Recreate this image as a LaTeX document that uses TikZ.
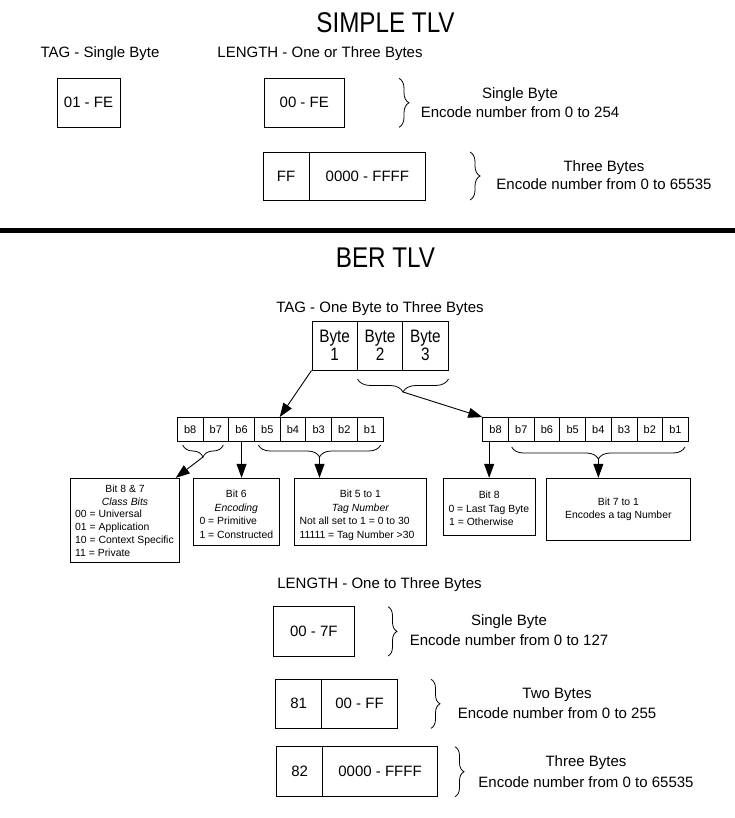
\documentclass[tikz,border=0pt]{standalone}
\usepackage{fontspec}
\setmainfont{Liberation Sans}
\newfontfamily\narrowfont[FakeStretch=0.85]{Liberation Sans}
\usetikzlibrary{arrows.meta,decorations.pathreplacing}
\begin{document}
\begin{tikzpicture}[x=1pt,y=-1pt,
  box/.style={draw,line width=0.9pt,inner sep=0pt,rectangle,font=\fontsize{15}{18}\selectfont},
  bytebox/.style={box,minimum width=45.33pt,minimum height=49pt,align=center,font=\narrowfont\fontsize{18}{18.4}\selectfont},
  infobox/.style={draw,line width=0.9pt,inner sep=0pt,rectangle},
  lbl/.style={inner sep=0pt,anchor=base,font=\fontsize{15}{18}\selectfont},
  big/.style={inner sep=0pt,anchor=base,font=\narrowfont\fontsize{28.5}{32}\selectfont},
  bit/.style={draw,line width=0.8pt,inner sep=0pt,minimum width=25.7pt,minimum height=23.5pt,font=\fontsize{11}{13}\selectfont},
  sm/.style={inner sep=0pt,anchor=base,font=\fontsize{10.4}{12.5}\selectfont},
  smw/.style={sm,anchor=base west},
  smi/.style={sm,font=\fontsize{10.4}{12.5}\selectfont\itshape},
  vbrace/.style={decorate,decoration={brace,amplitude=10pt},line width=0.8pt},
  hbrace/.style={decorate,decoration={brace,amplitude=12pt},line width=0.8pt},
  arr/.style={-{Triangle[length=14pt,width=10pt]},line width=0.9pt}
]
\useasboundingbox (0,0) rectangle (735,818);

% ---------- SIMPLE TLV ----------
\node[big] (title1) at (385.5,33) {SIMPLE TLV};
\node[lbl] (tagsingle) at (100,57.4) {TAG - Single Byte};
\node[lbl] (lenone) at (320,57.4) {LENGTH - One or Three Bytes};

\node[box,minimum width=63pt,minimum height=49pt] (t1) at (88.5,102.8) {01 - FE};
\node[box,minimum width=80.5pt,minimum height=49pt] (l1) at (304.25,102.8) {00 - FE};
\draw[vbrace,decoration={amplitude=10pt}] (399,78.3) -- (399,127.3);
\node[lbl] (sb1) at (520,98.4) {Single Byte};
\node[lbl] (enc254) at (520,117.4) {Encode number from 0 to 254};

\node[box,minimum width=46pt,minimum height=48pt] (l2a) at (286,176) {FF};
\node[box,minimum width=116.7pt,minimum height=48pt] (l2b) at (367.35,176) {0000 - FFFF};
\draw[vbrace] (470,152) -- (470,200);
\node[lbl] (tb1) at (604,171.4) {Three Bytes};
\node[lbl] (enca) at (604,189.4) {Encode number from 0 to 65535};

\draw[line width=5pt] (0,230.5) -- (735,230.5);

% ---------- BER TLV ----------
\node[big] (title2) at (385.5,267) {BER TLV};
\node[lbl] (tagone) at (380,312.4) {TAG - One Byte to Three Bytes};

\node[bytebox] (by1) at (334.65,345.5) {Byte\\1};
\node[bytebox] (by2) at (380,345.5) {Byte\\2};
\node[bytebox] (by3) at (425.35,345.5) {Byte\\3};

\foreach \i/\t in {0/b8,1/b7,2/b6,3/b5,4/b4,5/b3,6/b2,7/b1}{
  \node[bit] (l\t) at ({177.3+25.7*(\i+0.5)},429.25) {\t};
  \node[bit] (r\t) at ({482.7+25.7*(\i+0.5)},429.25) {\t};
}

% braces under bits / bytes
\draw[hbrace,decoration={amplitude=13pt}] (448.5,379) -- (357.5,379);
\coordinate (hb3) at (403,392);
\draw[hbrace] (223.3,445) -- (182.7,445);
\coordinate (hb1) at (203,457);
\draw[hbrace] (380.7,445) -- (258.3,445);
\coordinate (hb2) at (319.5,457);
\draw[hbrace] (685,447) -- (511.7,447);
\coordinate (hb4) at (598.35,459);

% info boxes
\node[infobox,minimum width=108.6pt,minimum height=83.7pt] (cls) at (125,520.15) {};
\node[infobox,minimum width=86pt,minimum height=66.7pt] (enc) at (236.3,511.65) {};
\node[infobox,minimum width=132.7pt,minimum height=66.7pt] (tnum) at (360.35,511.65) {};
\node[infobox,minimum width=91.7pt,minimum height=56.7pt] (last) at (489.15,506.65) {};
\node[infobox,minimum width=143.3pt,minimum height=61.7pt] (tag7) at (618.35,509.15) {};

% arrows
\draw[arr] (by1.south west) -- (lb4.north west);
\draw[arr] (hb3) -- (rb8.north west);
\draw[arr] (hb1) -- ([xshift=-4pt]cls.north east);
\draw[arr] (lb6.south) -- (lb6.south |- enc.north);
\draw[arr] (hb2) -- (hb2 |- tnum.north);
\draw[arr] (last.north |- rb8.south) -- (last.north);
\draw[arr] (hb4) -- (hb4 |- tag7.north);

% info texts
\node[sm] (c1) at (125,492.0) {Bit 8 \& 7};
\node[smi] (c2) at (125,505) {Class Bits};
\node[smw] (c3) at (75,517.9) {00 = Universal};
\node[smw] (c4) at (75,530.8) {01 = Application};
\node[smw] (c5) at (75,543.7) {10 = Context Specific};
\node[smw] (c6) at (75,556.6) {11 = Private};

\node[sm] (e1) at (236.3,497.7) {Bit 6};
\node[smi] (e2) at (236.3,511.3) {Encoding};
\node[smw] (e3) at (199.3,524.7) {0 = Primitive};
\node[smw] (e4) at (199.3,538.2) {1 = Constructed};

\node[sm] (n1) at (360.35,497.7) {Bit 5 to 1};
\node[smi] (n2) at (360.35,511.5) {Tag Number};
\node[smw] (n3) at (299.3,524.7) {Not all set to 1 = 0 to 30};
\node[smw] (n4) at (299.3,538.2) {11111 = Tag Number >30};

\node[sm] (s1) at (489.15,498.8) {Bit 8};
\node[smw] (s2) at (448.3,512) {0 = Last Tag Byte};
\node[smw] (s3) at (449,525.3) {1 = Otherwise};

\node[sm] (g1) at (618.35,505.5) {Bit 7 to 1};
\node[sm] (g2) at (618.35,518.8) {Encodes a tag Number};

% ---------- LENGTH (BER) ----------
\node[lbl] (lentwo) at (379.5,588.4) {LENGTH - One to Three Bytes};

\node[box,minimum width=81pt,minimum height=49.3pt] (m1) at (313.8,631.35) {00 - 7F};
\draw[vbrace,decoration={amplitude=9pt}] (388,606.7) -- (388,656);
\node[lbl] (sb2) at (509,625.4) {Single Byte};
\node[lbl] (enc127) at (509,645.4) {Encode number from 0 to 127};

\node[box,minimum width=46pt,minimum height=49pt] (m2a) at (298.7,703.8) {81};
\node[box,minimum width=75.6pt,minimum height=49pt] (m2b) at (359.5,703.8) {00 - FF};
\draw[vbrace,decoration={amplitude=9pt}] (431,679.3) -- (431,728.3);
\node[lbl] (twob) at (557,698.4) {Two Bytes};
\node[lbl] (enc255) at (557,718.4) {Encode number from 0 to 255};

\node[box,minimum width=46pt,minimum height=50pt] (m3a) at (299.7,771.7) {82};
\node[box,minimum width=114.6pt,minimum height=50pt] (m3b) at (380,771.7) {0000 - FFFF};
\draw[vbrace,decoration={amplitude=9pt}] (455,746.7) -- (455,796.7);
\node[lbl] (tb2) at (586,766.4) {Three Bytes};
\node[lbl] (encb) at (586,787.1) {Encode number from 0 to 65535};
\end{tikzpicture}
\end{document}
